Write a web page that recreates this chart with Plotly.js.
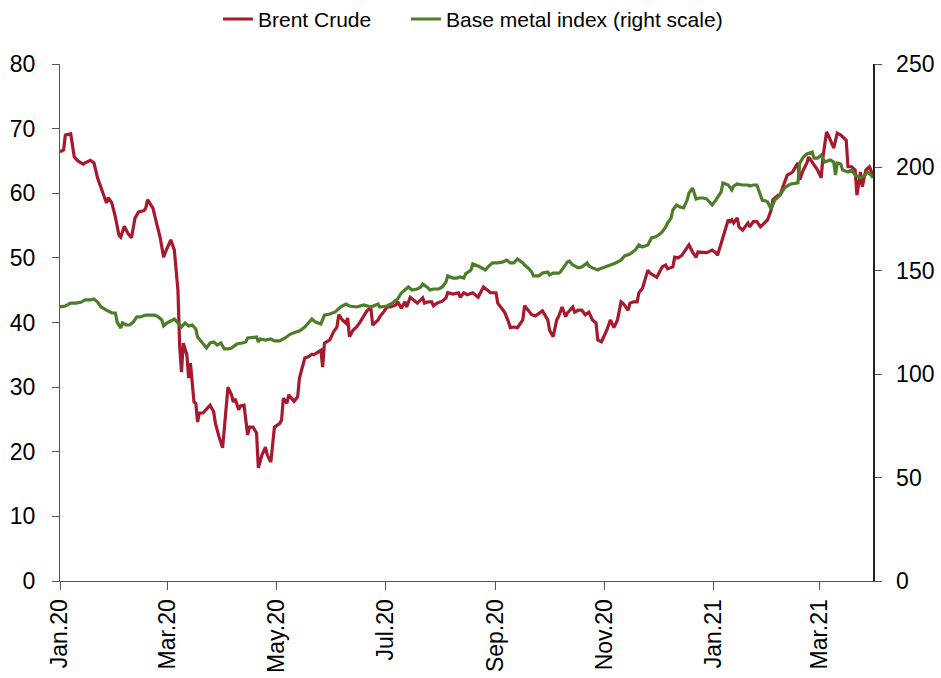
<!DOCTYPE html>
<html>
<head>
<meta charset="utf-8">
<script src="https://cdn.plot.ly/plotly-3.0.1.min.js"></script>
<style>html,body{margin:0;padding:0;background:#fff;}#chart{width:941px;height:678px;}</style>
</head>
<body>
<div id="chart"></div>
<script>
// Brent Crude (USD/bbl, left scale)
const brentDates = ["2020-01-01","2020-01-03","2020-01-04","2020-01-07","2020-01-09","2020-01-11","2020-01-14","2020-01-15","2020-01-18","2020-01-20","2020-01-22","2020-01-23","2020-01-25","2020-01-26","2020-01-27","2020-01-28","2020-01-30","2020-02-01","2020-02-03","2020-02-04","2020-02-06","2020-02-08","2020-02-10","2020-02-12","2020-02-14","2020-02-17","2020-02-18","2020-02-19","2020-02-22","2020-02-24","2020-02-26","2020-02-28","2020-02-29","2020-03-03","2020-03-04","2020-03-05","2020-03-07","2020-03-08","2020-03-09","2020-03-10","2020-03-12","2020-03-13","2020-03-14","2020-03-15","2020-03-16","2020-03-17","2020-03-18","2020-03-19","2020-03-21","2020-03-23","2020-03-25","2020-03-27","2020-03-28","2020-03-30","2020-04-01","2020-04-04","2020-04-06","2020-04-07","2020-04-08","2020-04-10","2020-04-11","2020-04-13","2020-04-15","2020-04-16","2020-04-18","2020-04-20","2020-04-21","2020-04-23","2020-04-25","2020-04-26","2020-04-28","2020-04-30","2020-05-03","2020-05-04","2020-05-05","2020-05-07","2020-05-08","2020-05-11","2020-05-13","2020-05-14","2020-05-17","2020-05-19","2020-05-21","2020-05-22","2020-05-24","2020-05-26","2020-05-27","2020-05-28","2020-05-31","2020-06-02","2020-06-04","2020-06-05","2020-06-07","2020-06-09","2020-06-10","2020-06-11","2020-06-13","2020-06-15","2020-06-17","2020-06-19","2020-06-21","2020-06-23","2020-06-24","2020-06-27","2020-06-28","2020-06-30","2020-07-02","2020-07-04","2020-07-07","2020-07-08","2020-07-10","2020-07-12","2020-07-13","2020-07-15","2020-07-17","2020-07-19","2020-07-22","2020-07-23","2020-07-25","2020-07-27","2020-07-28","2020-07-30","2020-08-02","2020-08-04","2020-08-05","2020-08-08","2020-08-11","2020-08-12","2020-08-14","2020-08-16","2020-08-19","2020-08-22","2020-08-25","2020-08-27","2020-08-29","2020-09-01","2020-09-02","2020-09-05","2020-09-06","2020-09-08","2020-09-09","2020-09-11","2020-09-13","2020-09-16","2020-09-17","2020-09-19","2020-09-21","2020-09-23","2020-09-26","2020-09-27","2020-09-30","2020-10-01","2020-10-03","2020-10-05","2020-10-06","2020-10-08","2020-10-10","2020-10-11","2020-10-14","2020-10-15","2020-10-17","2020-10-19","2020-10-21","2020-10-23","2020-10-25","2020-10-27","2020-10-28","2020-10-30","2020-10-31","2020-11-02","2020-11-04","2020-11-06","2020-11-08","2020-11-10","2020-11-11","2020-11-14","2020-11-15","2020-11-17","2020-11-19","2020-11-20","2020-11-22","2020-11-25","2020-11-26","2020-11-28","2020-11-30","2020-12-03","2020-12-05","2020-12-06","2020-12-09","2020-12-10","2020-12-12","2020-12-14","2020-12-16","2020-12-18","2020-12-20","2020-12-22","2020-12-23","2020-12-26","2020-12-28","2020-12-31","2021-01-02","2021-01-03","2021-01-06","2021-01-07","2021-01-09","2021-01-10","2021-01-11","2021-01-12","2021-01-14","2021-01-15","2021-01-17","2021-01-20","2021-01-21","2021-01-23","2021-01-25","2021-01-27","2021-01-29","2021-01-31","2021-02-02","2021-02-03","2021-02-06","2021-02-07","2021-02-09","2021-02-11","2021-02-13","2021-02-14","2021-02-17","2021-02-18","2021-02-20","2021-02-22","2021-02-23","2021-02-26","2021-02-28","2021-03-02","2021-03-03","2021-03-05","2021-03-06","2021-03-09","2021-03-11","2021-03-13","2021-03-16","2021-03-17","2021-03-19","2021-03-21","2021-03-22","2021-03-24","2021-03-25","2021-03-27","2021-03-29","2021-03-31"];
const brentValues = [66.4,66.7,69.0,69.2,65.6,65.0,64.5,64.7,65.1,64.7,62.4,61.6,60.0,59.1,58.5,59.3,58.5,56.3,53.5,53.2,54.9,53.8,53.1,56.2,57.1,57.3,57.7,59.0,57.7,55.4,53.2,50.1,50.9,52.8,51.8,51.2,45.0,36.2,32.3,36.8,35.0,31.4,33.7,31.1,27.7,27.5,24.6,26.0,26.0,26.6,27.2,26.2,24.4,22.3,20.6,30.0,28.8,27.7,28.2,26.5,27.1,27.2,22.6,23.8,23.8,22.9,17.5,19.5,20.7,19.5,18.4,23.8,24.4,24.9,28.3,27.5,28.8,27.8,28.5,31.4,34.5,34.7,35.1,35.0,35.3,35.7,33.1,36.8,37.3,38.5,39.3,41.2,40.4,39.9,40.7,37.8,38.8,39.3,40.1,40.9,41.9,42.2,39.6,40.4,40.9,41.6,42.4,42.4,42.7,43.2,42.2,43.2,42.4,43.9,43.5,43.0,43.8,43.0,43.2,43.2,42.6,43.0,43.3,43.8,44.6,44.4,44.6,43.9,44.6,44.3,44.6,43.9,45.5,45.0,44.6,44.6,43.0,41.9,41.5,40.1,39.2,39.3,39.2,40.4,42.6,41.9,41.2,41.0,41.5,41.8,40.4,38.8,37.8,40.4,40.9,42.4,40.9,41.5,42.4,41.6,41.9,41.9,41.2,41.6,40.4,39.9,37.3,37.0,37.6,38.8,40.4,39.2,40.4,43.2,43.0,41.9,43.0,43.2,43.2,44.6,45.3,48.1,47.7,47.3,47.0,48.6,48.9,48.3,48.6,50.1,50.0,50.4,51.2,52.0,50.9,50.1,50.9,50.8,50.8,51.2,50.8,50.4,53.2,54.3,55.9,55.6,55.9,55.4,56.2,54.8,54.3,55.4,54.8,55.6,55.6,54.8,55.4,55.9,57.4,59.0,59.7,59.7,61.3,62.8,63.1,63.3,64.7,62.1,63.6,64.7,65.6,64.4,63.6,62.4,65.6,69.5,69.0,67.0,69.3,69.0,68.2,64.1,64.1,63.6,59.7,63.3,61.0,63.6,64.1,62.8];

// Base metal index (right scale)
const metalDates = ["2020-01-01","2020-01-04","2020-01-07","2020-01-10","2020-01-13","2020-01-15","2020-01-18","2020-01-20","2020-01-22","2020-01-24","2020-01-27","2020-01-30","2020-02-01","2020-02-02","2020-02-04","2020-02-05","2020-02-07","2020-02-09","2020-02-11","2020-02-13","2020-02-15","2020-02-18","2020-02-20","2020-02-23","2020-02-25","2020-02-27","2020-02-28","2020-03-01","2020-03-04","2020-03-05","2020-03-07","2020-03-09","2020-03-11","2020-03-13","2020-03-15","2020-03-17","2020-03-18","2020-03-21","2020-03-23","2020-03-25","2020-03-27","2020-03-29","2020-03-31","2020-04-02","2020-04-04","2020-04-06","2020-04-09","2020-04-12","2020-04-14","2020-04-15","2020-04-18","2020-04-20","2020-04-21","2020-04-22","2020-04-25","2020-04-28","2020-04-30","2020-05-03","2020-05-06","2020-05-09","2020-05-12","2020-05-14","2020-05-17","2020-05-21","2020-05-23","2020-05-26","2020-05-28","2020-05-31","2020-06-03","2020-06-06","2020-06-09","2020-06-11","2020-06-15","2020-06-19","2020-06-23","2020-06-27","2020-06-28","2020-07-02","2020-07-05","2020-07-08","2020-07-10","2020-07-12","2020-07-14","2020-07-16","2020-07-19","2020-07-21","2020-07-22","2020-07-25","2020-07-26","2020-07-28","2020-07-31","2020-08-02","2020-08-04","2020-08-05","2020-08-08","2020-08-10","2020-08-12","2020-08-14","2020-08-15","2020-08-18","2020-08-19","2020-08-22","2020-08-24","2020-08-26","2020-08-28","2020-08-30","2020-09-02","2020-09-05","2020-09-07","2020-09-09","2020-09-11","2020-09-13","2020-09-16","2020-09-17","2020-09-19","2020-09-21","2020-09-22","2020-09-25","2020-09-27","2020-09-30","2020-10-01","2020-10-03","2020-10-06","2020-10-07","2020-10-09","2020-10-11","2020-10-12","2020-10-14","2020-10-17","2020-10-19","2020-10-22","2020-10-23","2020-10-25","2020-10-28","2020-10-29","2020-11-01","2020-11-04","2020-11-07","2020-11-10","2020-11-12","2020-11-15","2020-11-18","2020-11-20","2020-11-22","2020-11-25","2020-11-27","2020-11-29","2020-12-01","2020-12-03","2020-12-05","2020-12-06","2020-12-08","2020-12-09","2020-12-11","2020-12-13","2020-12-15","2020-12-17","2020-12-18","2020-12-20","2020-12-22","2020-12-24","2020-12-26","2020-12-28","2020-12-31","2021-01-02","2021-01-05","2021-01-06","2021-01-09","2021-01-11","2021-01-12","2021-01-14","2021-01-17","2021-01-20","2021-01-21","2021-01-23","2021-01-25","2021-01-26","2021-01-28","2021-01-30","2021-01-31","2021-02-02","2021-02-03","2021-02-04","2021-02-06","2021-02-08","2021-02-10","2021-02-13","2021-02-16","2021-02-17","2021-02-18","2021-02-20","2021-02-22","2021-02-25","2021-02-26","2021-02-28","2021-03-02","2021-03-04","2021-03-07","2021-03-09","2021-03-10","2021-03-11","2021-03-13","2021-03-14","2021-03-17","2021-03-19","2021-03-21","2021-03-24","2021-03-26","2021-03-28","2021-03-30","2021-03-31"];
const metalValues = [132.5,133.0,134.4,134.4,134.9,135.9,135.9,136.4,134.9,132.5,131.0,129.6,129.6,125.2,122.3,124.8,123.8,123.8,125.2,127.7,127.7,128.6,128.6,128.6,127.7,126.2,123.3,124.8,126.2,126.7,124.8,122.8,124.8,123.3,123.8,121.9,118.0,115.1,112.7,115.1,115.6,114.1,115.1,112.2,112.2,112.7,114.6,115.1,115.6,117.5,118.0,118.0,115.6,117.0,116.5,117.0,116.1,116.1,117.5,119.4,120.4,120.9,122.8,126.7,125.2,124.3,128.6,129.1,130.1,132.5,133.9,133.0,132.5,133.5,132.5,133.9,132.5,133.0,134.4,136.4,139.3,140.7,142.2,140.7,141.2,142.2,143.6,141.7,140.7,141.2,141.2,142.2,144.6,147.5,146.5,146.5,147.0,146.5,148.5,150.4,153.3,152.3,151.4,150.4,152.3,153.8,153.8,154.3,155.2,153.8,153.8,155.7,153.8,152.8,151.4,149.4,147.5,147.5,148.9,149.4,148.0,148.9,148.9,149.4,151.8,154.3,154.7,152.8,151.4,151.8,153.8,152.3,151.4,150.4,150.9,151.8,152.8,153.8,155.2,157.2,158.1,160.1,162.5,161.5,162.5,165.9,166.3,167.3,168.8,171.2,173.1,175.5,179.4,181.8,180.9,180.4,184.2,187.6,190.0,184.7,185.2,185.2,184.7,181.8,184.2,188.1,192.5,191.5,189.1,191.0,192.0,191.5,191.5,191.0,191.5,191.5,189.1,184.2,183.8,183.3,179.9,181.8,184.2,185.7,188.1,190.5,192.0,192.5,192.5,202.1,205.0,206.5,207.4,204.5,204.5,206.0,202.6,203.6,202.6,196.3,202.1,201.6,198.7,197.8,198.7,196.3,194.9,195.8,197.8,196.3,194.9];

const seriesNames = ["Brent Crude", "Base metal index (right scale)"];

const FONT = "Arial, 'Liberation Sans', sans-serif";

const traces = [
  {x: brentDates, y: brentValues, name: seriesNames[0], type: "scatter", mode: "lines",
   line: {color: "#A8192E", width: 3.2}, yaxis: "y", legend: "legend"},
  {x: metalDates, y: metalValues, name: seriesNames[1], type: "scatter", mode: "lines",
   line: {color: "#4E7D2A", width: 3.2}, yaxis: "y2", legend: "legend2"}
];

const legendBase = {orientation: "h", yanchor: "top", y: 1.126, xanchor: "left",
  font: {family: FONT, size: 21, color: "#000"}, itemwidth: 30, bgcolor: "rgba(0,0,0,0)"};

const layout = {
  width: 941, height: 678,
  margin: {l: 60, r: 68, t: 64, b: 97, pad: 0, autoexpand: false},
  paper_bgcolor: "#fff", plot_bgcolor: "#fff",
  font: {family: FONT, color: "#000", size: 23},
  showlegend: true,
  legend: Object.assign({}, legendBase, {x: 0.1943}),
  legend2: Object.assign({}, legendBase, {x: 0.4256}),
  xaxis: {
    type: "date", range: ["2020-01-01", "2021-03-31"],
    tick0: "2020-01-01", dtick: "M2", tickformat: "%b.%y", tickangle: -90,
    showgrid: false, zeroline: false, showline: true, linecolor: "#555", linewidth: 1,
    ticks: "outside", ticklen: 8, tickcolor: "#555",
    tickfont: {family: FONT, size: 23, color: "#000"}
  },
  yaxis: {
    range: [0, 80], dtick: 10, showgrid: false, zeroline: false,
    showline: true, linecolor: "#555", linewidth: 1,
    ticks: "outside", ticklen: 7, tickcolor: "#555", ticklabelstandoff: 12,
    tickfont: {family: FONT, size: 23, color: "#000"}
  },
  yaxis2: {
    range: [0, 250], dtick: 50, overlaying: "y", side: "right", showgrid: false, zeroline: false,
    showline: true, linecolor: "#222", linewidth: 1.5,
    ticks: "outside", ticklen: 7, tickcolor: "#555", ticklabelstandoff: 10,
    tickfont: {family: FONT, size: 23, color: "#000"}
  }
};

Plotly.newPlot("chart", traces, layout, {displayModeBar: false, staticPlot: true});
</script>
</body>
</html>
